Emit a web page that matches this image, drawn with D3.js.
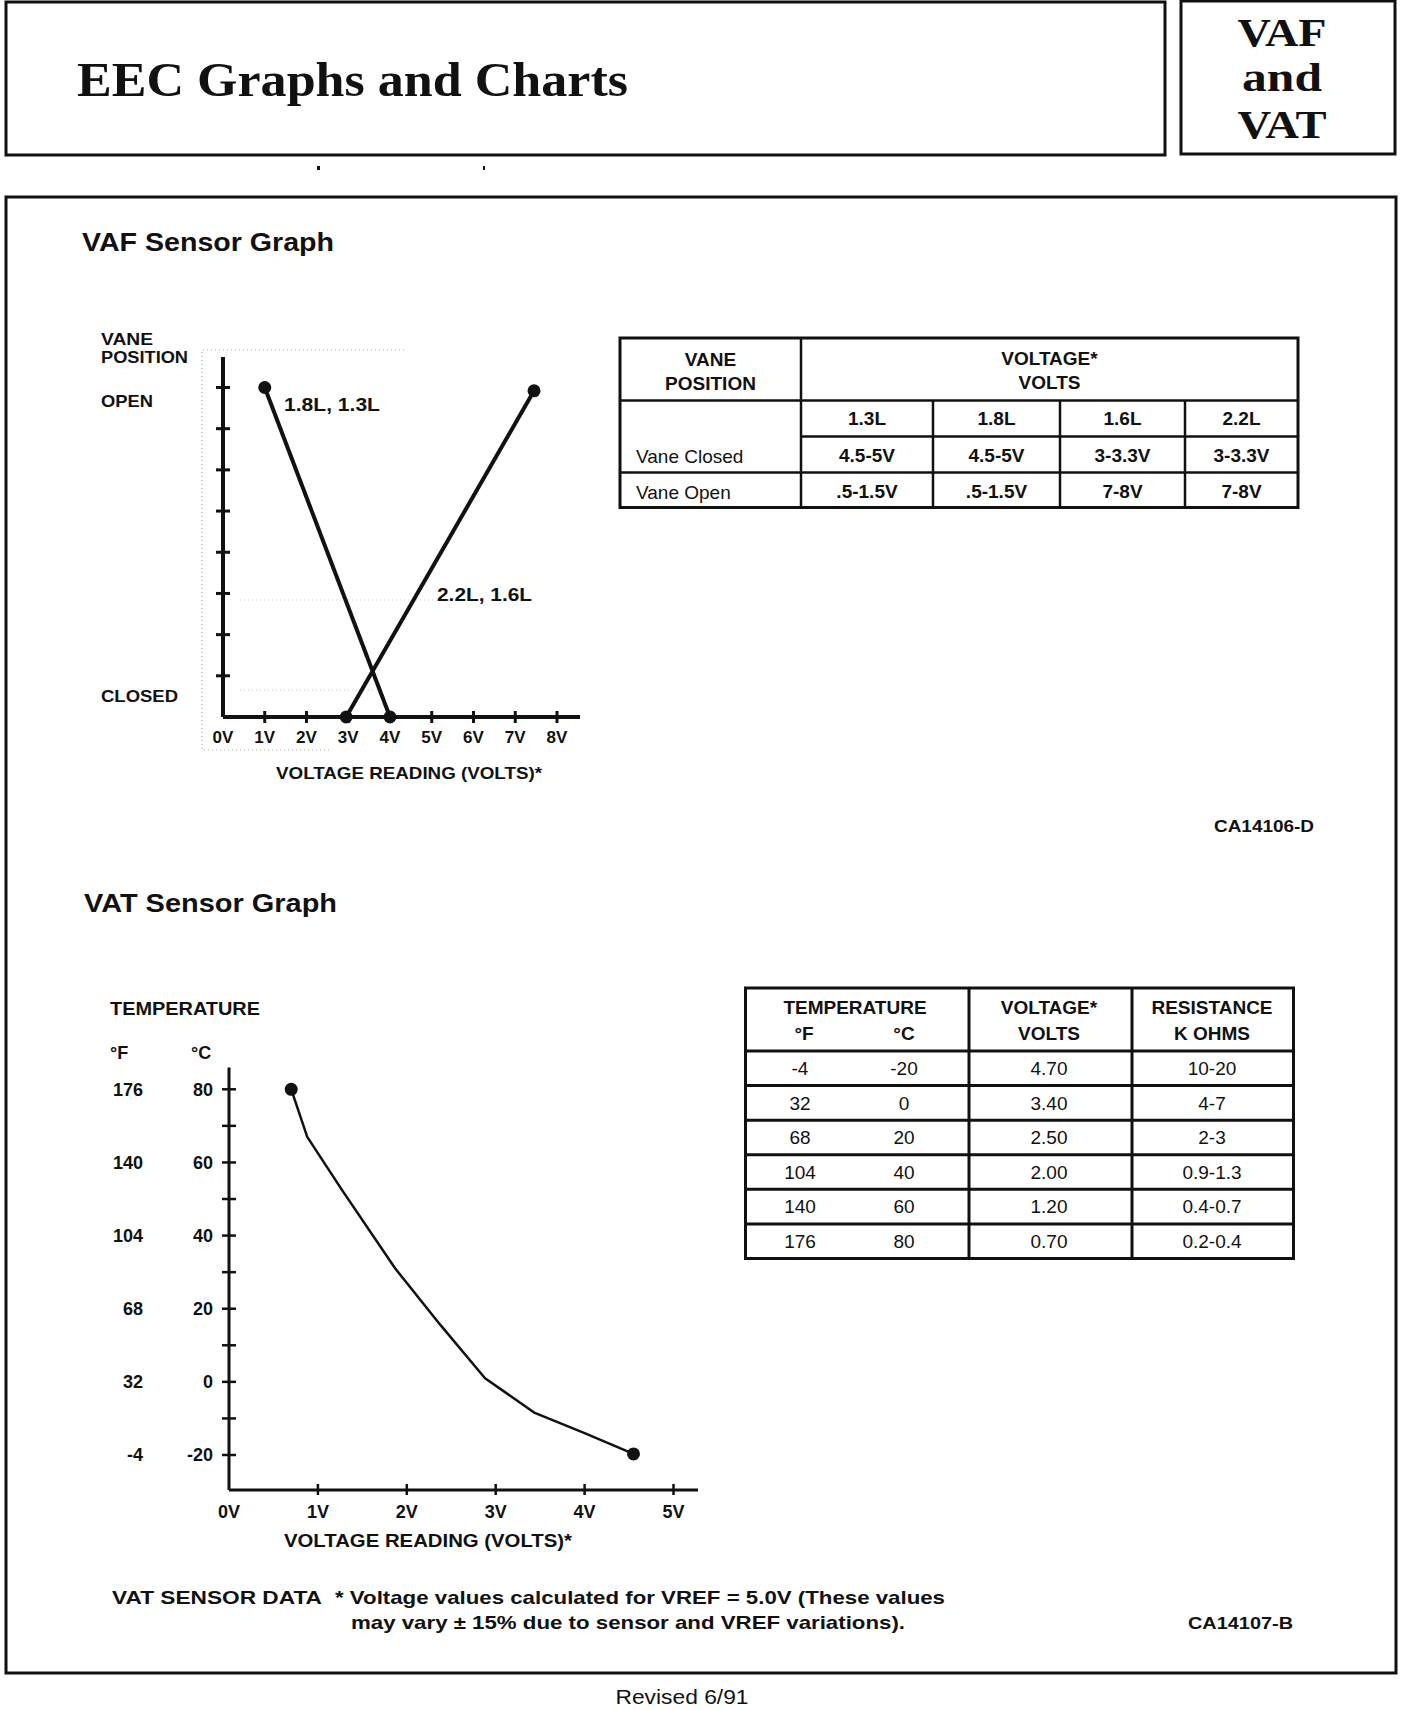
<!DOCTYPE html>
<html>
<head>
<meta charset="utf-8">
<script src="https://cdn.jsdelivr.net/npm/d3@7"></script>
<style>
  body { margin: 0; background: #fff; }
  svg { display: block; }
  text { font-family: "Liberation Sans", Arial, sans-serif; fill: #111; }
</style>
</head>
<body>
<svg width="1408" height="1710"></svg>
<script>
// ---- data ----
const vafVoltTicks = [0, 1, 2, 3, 4, 5, 6, 7, 8];
const vafPosTicks = [1, 2, 3, 4, 5, 6, 7, 8];
const vafSmallEngines = [{ v: 1.0, p: 8 }, { v: 4.0, p: 0 }];     // 1.8L, 1.3L
const vafLargeEngines = [{ v: 2.95, p: 0 }, { v: 7.45, p: 7.92 }]; // 2.2L, 1.6L

const vafEngines = ['1.3L', '1.8L', '1.6L', '2.2L'];
const vafClosed = ['4.5-5V', '4.5-5V', '3-3.3V', '3-3.3V'];
const vafOpen = ['.5-1.5V', '.5-1.5V', '7-8V', '7-8V'];

const vatVoltTicks = [0, 1, 2, 3, 4, 5];
const vatCelsiusTicks = [-20, 0, 20, 40, 60, 80];
const vatFahrenheitTicks = [-4, 32, 68, 104, 140, 176];
const vatMinorTicks = [-10, 10, 30, 50, 70];
const vatCurve = [
  { v: 0.70, t: 80 }, { v: 0.88, t: 67 }, { v: 1.27, t: 52.5 },
  { v: 1.87, t: 31 }, { v: 2.38, t: 15.5 }, { v: 2.88, t: 1 },
  { v: 3.44, t: -8.5 }, { v: 4.0, t: -14 }, { v: 4.55, t: -19.7 }
];

const vatTableF = ['-4', '32', '68', '104', '140', '176'];
const vatTableC = ['-20', '0', '20', '40', '60', '80'];
const vatTableVolts = ['4.70', '3.40', '2.50', '2.00', '1.20', '0.70'];
const vatTableOhms = ['10-20', '4-7', '2-3', '0.9-1.3', '0.4-0.7', '0.2-0.4'];

// ---- page ----
const svg = d3.select('svg');
svg.append('rect').attr('width', 1408).attr('height', 1710).attr('fill', '#fff');

function txt(g, x, y, s, o = {}) {
  const t = g.append('text')
    .attr('x', x).attr('y', y)
    .attr('text-anchor', o.anchor || 'start')
    .attr('font-size', o.size || 18)
    .attr('font-weight', o.weight || 'normal')
    .text(s);
  if (o.family) t.style('font-family', o.family);
  if (o.len) t.attr('textLength', o.len).attr('lengthAdjust', 'spacingAndGlyphs');
  return t;
}

function line(g, x1, y1, x2, y2, w = 2.5) {
  g.append('line')
    .attr('x1', x1).attr('y1', y1).attr('x2', x2).attr('y2', y2)
    .attr('stroke', '#111').attr('stroke-width', w);
}

// header boxes
const head = svg.append('g');
head.append('rect').attr('x', 6).attr('y', 2).attr('width', 1159).attr('height', 153)
  .attr('fill', 'none').attr('stroke', '#111').attr('stroke-width', 3);
head.append('rect').attr('x', 1181).attr('y', 1).attr('width', 214).attr('height', 153)
  .attr('fill', 'none').attr('stroke', '#111').attr('stroke-width', 3);
const serif = '"Liberation Serif", "DejaVu Serif", serif';
txt(head, 77, 96, 'EEC Graphs and Charts', { size: 48, weight: 'bold', family: serif, len: 551 });
txt(head, 1282, 46, 'VAF', { size: 41, weight: 'bold', family: serif, anchor: 'middle', len: 89 });
txt(head, 1282, 91, 'and', { size: 41, weight: 'bold', family: serif, anchor: 'middle', len: 80 });
txt(head, 1282, 138, 'VAT', { size: 41, weight: 'bold', family: serif, anchor: 'middle', len: 89 });
head.append('rect').attr('x', 317).attr('y', 166).attr('width', 3).attr('height', 4).attr('fill', '#111');
head.append('rect').attr('x', 483).attr('y', 166).attr('width', 2).attr('height', 4).attr('fill', '#111');

// main frame
svg.append('rect').attr('x', 6).attr('y', 197).attr('width', 1390).attr('height', 1476)
  .attr('fill', 'none').attr('stroke', '#111').attr('stroke-width', 3);

txt(svg, 82, 251, 'VAF Sensor Graph', { size: 25, weight: 'bold', len: 252 });
txt(svg, 84, 912, 'VAT Sensor Graph', { size: 25, weight: 'bold', len: 253 });

// ---- VAF graph ----
const vaf = svg.append('g');
const vx = d3.scaleLinear().domain([0, 8]).range([223, 557]);
const vy = d3.scaleLinear().domain([0, 8]).range([717, 387.5]);

// faint scan frame
const faint = vaf.append('g').attr('stroke', '#aaa').attr('stroke-width', 1.2)
  .attr('stroke-dasharray', '1,3').attr('fill', 'none');
faint.append('path').attr('d', 'M404,350 H202 V750 H330');
faint.append('path').attr('d', 'M240,600 H460').attr('stroke', '#ccc');
faint.append('path').attr('d', 'M240,690 H380').attr('stroke', '#ccc');

// axes
line(vaf, vx(0), vy(8.74), vx(0), vy(0), 4);
line(vaf, vx(0), vy(0), 580, vy(0), 4);
vaf.selectAll('.yt').data(vafPosTicks).join('line')
  .attr('x1', vx(0) - 7).attr('x2', vx(0) + 7)
  .attr('y1', d => vy(d)).attr('y2', d => vy(d))
  .attr('stroke', '#111').attr('stroke-width', 3);
vaf.selectAll('.xt').data(vafVoltTicks.slice(1)).join('line')
  .attr('x1', d => vx(d)).attr('x2', d => vx(d))
  .attr('y1', vy(0) - 6).attr('y2', vy(0) + 6)
  .attr('stroke', '#111').attr('stroke-width', 3);
vaf.selectAll('.xl').data(vafVoltTicks).join('text')
  .attr('x', d => vx(d)).attr('y', 743)
  .attr('text-anchor', 'middle').attr('font-size', 17).attr('font-weight', 'bold')
  .text(d => d + 'V');

// lines
const vafLine = d3.line().x(d => vx(d.v)).y(d => vy(d.p));
[vafSmallEngines, vafLargeEngines].forEach(s => {
  vaf.append('path').attr('d', vafLine(s)).attr('fill', 'none')
    .attr('stroke', '#111').attr('stroke-width', 4);
  vaf.selectAll(null).data(s).join('circle')
    .attr('cx', d => vx(d.v)).attr('cy', d => vy(d.p)).attr('r', 6.5).attr('fill', '#111');
});
txt(vaf, 284, 411, '1.8L, 1.3L', { size: 18, weight: 'bold', len: 96 });
txt(vaf, 437, 601, '2.2L, 1.6L', { size: 18, weight: 'bold', len: 95 });

txt(vaf, 101, 345, 'VANE', { size: 16, weight: 'bold', len: 52 });
txt(vaf, 101, 363, 'POSITION', { size: 16, weight: 'bold', len: 87 });
txt(vaf, 101, 407, 'OPEN', { size: 17, weight: 'bold', len: 52 });
txt(vaf, 101, 702, 'CLOSED', { size: 17, weight: 'bold', len: 77 });
txt(vaf, 276, 779, 'VOLTAGE READING (VOLTS)*', { size: 17, weight: 'bold', len: 266 });
txt(vaf, 1314, 832, 'CA14106-D', { size: 16, weight: 'bold', anchor: 'end', len: 100 });

// ---- VAF table ----
const t1 = svg.append('g');
const t1x = [620, 801, 933, 1060, 1185, 1298];
const t1y = [338, 400.6, 436.6, 472.6, 507.5];
t1.append('rect').attr('x', t1x[0]).attr('y', t1y[0])
  .attr('width', t1x[5] - t1x[0]).attr('height', t1y[4] - t1y[0])
  .attr('fill', 'none').attr('stroke', '#111').attr('stroke-width', 3);
line(t1, t1x[1], t1y[0], t1x[1], t1y[4]);
line(t1, t1x[0], t1y[1], t1x[5], t1y[1]);
line(t1, t1x[1], t1y[2], t1x[5], t1y[2]);
line(t1, t1x[0], t1y[3], t1x[5], t1y[3]);
[2, 3, 4].forEach(i => line(t1, t1x[i], t1y[1], t1x[i], t1y[4]));
const c1 = i => (t1x[i + 1] + t1x[i + 2]) / 2;
txt(t1, (t1x[0] + t1x[1]) / 2, 366, 'VANE', { size: 19, weight: 'bold', anchor: 'middle' });
txt(t1, (t1x[0] + t1x[1]) / 2, 390, 'POSITION', { size: 19, weight: 'bold', anchor: 'middle' });
txt(t1, (t1x[1] + t1x[5]) / 2, 365, 'VOLTAGE*', { size: 19, weight: 'bold', anchor: 'middle' });
txt(t1, (t1x[1] + t1x[5]) / 2, 389, 'VOLTS', { size: 19, weight: 'bold', anchor: 'middle' });
t1.selectAll('.eng').data(vafEngines).join('text')
  .attr('x', (d, i) => c1(i)).attr('y', 425).attr('text-anchor', 'middle')
  .attr('font-size', 19).attr('font-weight', 'bold').text(d => d);
t1.selectAll('.cl').data(vafClosed).join('text')
  .attr('x', (d, i) => c1(i)).attr('y', 462).attr('text-anchor', 'middle')
  .attr('font-size', 19).attr('font-weight', 'bold').text(d => d);
t1.selectAll('.op').data(vafOpen).join('text')
  .attr('x', (d, i) => c1(i)).attr('y', 498).attr('text-anchor', 'middle')
  .attr('font-size', 19).attr('font-weight', 'bold').text(d => d);
txt(t1, 636, 463, 'Vane Closed', { size: 19 });
txt(t1, 636, 499, 'Vane Open', { size: 19 });

// ---- VAT graph ----
const vat = svg.append('g');
const tx = d3.scaleLinear().domain([0, 5]).range([229, 673.5]);
const ty = d3.scaleLinear().domain([-20, 80]).range([1455, 1089.3]);
const yBottom = 1490, yTop = 1067.5;

line(vat, tx(0), yTop, tx(0), yBottom, 3);
line(vat, tx(0), yBottom, 698, yBottom, 3);
vat.selectAll('.ct').data(vatCelsiusTicks.concat(vatMinorTicks)).join('line')
  .attr('x1', tx(0) - 7).attr('x2', tx(0) + 7)
  .attr('y1', d => ty(d)).attr('y2', d => ty(d))
  .attr('stroke', '#111').attr('stroke-width', 2.5);
vat.selectAll('.vt').data(vatVoltTicks.slice(1)).join('line')
  .attr('x1', d => tx(d)).attr('x2', d => tx(d))
  .attr('y1', yBottom - 6).attr('y2', yBottom + 5)
  .attr('stroke', '#111').attr('stroke-width', 2.5);
vat.selectAll('.vl').data(vatVoltTicks).join('text')
  .attr('x', d => tx(d)).attr('y', 1518).attr('text-anchor', 'middle')
  .attr('font-size', 18).attr('font-weight', 'bold').text(d => d + 'V');
vat.selectAll('.cl').data(vatCelsiusTicks).join('text')
  .attr('x', 213).attr('y', d => ty(d)).attr('dy', '0.36em').attr('text-anchor', 'end')
  .attr('font-size', 18).attr('font-weight', 'bold').text(d => d);
vat.selectAll('.fl').data(vatFahrenheitTicks).join('text')
  .attr('x', 143).attr('y', (d, i) => ty(vatCelsiusTicks[i])).attr('dy', '0.36em').attr('text-anchor', 'end')
  .attr('font-size', 18).attr('font-weight', 'bold').text(d => d);

const vatLine = d3.line().x(d => tx(d.v)).y(d => ty(d.t));
vat.append('path').attr('d', vatLine(vatCurve)).attr('fill', 'none')
  .attr('stroke', '#111').attr('stroke-width', 2.5).attr('stroke-linejoin', 'round');
vat.selectAll('.dot').data([vatCurve[0], vatCurve[vatCurve.length - 1]]).join('circle')
  .attr('cx', d => tx(d.v)).attr('cy', d => ty(d.t)).attr('r', 6.5).attr('fill', '#111');

txt(vat, 110, 1015, 'TEMPERATURE', { size: 18, weight: 'bold', len: 150 });
txt(vat, 110, 1059, '°F', { size: 18, weight: 'bold' });
txt(vat, 191, 1059, '°C', { size: 18, weight: 'bold' });
txt(vat, 284, 1547, 'VOLTAGE READING (VOLTS)*', { size: 18, weight: 'bold', len: 288 });

// ---- VAT table ----
const t2 = svg.append('g');
const t2x = [745.5, 969, 1132, 1293.5];
const ry = d3.scaleLinear().domain([0, 6]).range([1051, 1258.5]);
t2.append('rect').attr('x', t2x[0]).attr('y', 988)
  .attr('width', t2x[3] - t2x[0]).attr('height', ry(6) - 988)
  .attr('fill', 'none').attr('stroke', '#111').attr('stroke-width', 3);
[1, 2].forEach(i => line(t2, t2x[i], 988, t2x[i], ry(6), 3));
d3.range(6).forEach(i => line(t2, t2x[0], ry(i), t2x[3], ry(i), 3));
txt(t2, 855, 1014, 'TEMPERATURE', { size: 19, weight: 'bold', anchor: 'middle' });
txt(t2, 804, 1040, '°F', { size: 19, weight: 'bold', anchor: 'middle' });
txt(t2, 904, 1040, '°C', { size: 19, weight: 'bold', anchor: 'middle' });
txt(t2, 1049, 1014, 'VOLTAGE*', { size: 19, weight: 'bold', anchor: 'middle' });
txt(t2, 1049, 1040, 'VOLTS', { size: 19, weight: 'bold', anchor: 'middle' });
txt(t2, 1212, 1014, 'RESISTANCE', { size: 19, weight: 'bold', anchor: 'middle' });
txt(t2, 1212, 1040, 'K OHMS', { size: 19, weight: 'bold', anchor: 'middle' });
const cols = [[vatTableF, 800], [vatTableC, 904], [vatTableVolts, 1049], [vatTableOhms, 1212]];
cols.forEach(([arr, cx]) => {
  t2.selectAll(null).data(arr).join('text')
    .attr('x', cx).attr('y', (d, i) => (ry(i) + ry(i + 1)) / 2).attr('dy', '0.36em')
    .attr('text-anchor', 'middle').attr('font-size', 19).text(d => d);
});

// ---- notes ----
txt(svg, 112, 1604, 'VAT SENSOR DATA', { size: 19, weight: 'bold', len: 210 });
txt(svg, 335, 1604, '* Voltage values calculated for VREF = 5.0V (These values', { size: 19, weight: 'bold', len: 610 });
txt(svg, 351, 1629, 'may vary ± 15% due to sensor and VREF variations).', { size: 19, weight: 'bold', len: 554 });
txt(svg, 1293, 1629, 'CA14107-B', { size: 16, weight: 'bold', anchor: 'end', len: 105 });
txt(svg, 682, 1704, 'Revised 6/91', { size: 20, anchor: 'middle', len: 133 });
</script>
</body>
</html>
